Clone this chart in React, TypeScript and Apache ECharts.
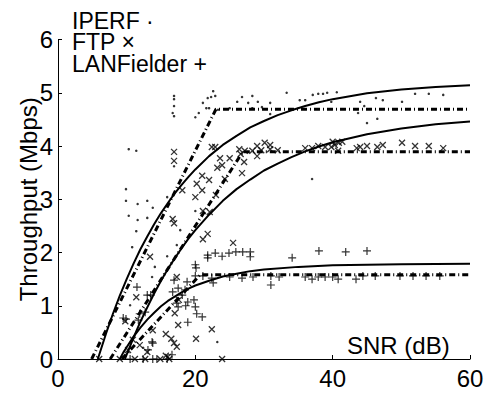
import React, { useEffect, useRef } from 'react';
import * as echarts from 'echarts';

const legendLabels = ['IPERF ·', 'FTP ×', 'LANFielder +'];
const xAxisTitle = 'SNR (dB)';
const yAxisTitle = 'Throughput (Mbps)';

const iperfPoints: [number, number][] = [
  [16.9, 4.94], [16.9, 4.88], [16.9, 4.75], [16.7, 4.62], [16.9, 4.56], [10.3, 3.94], [11.4, 3.91],
  [16.9, 3.62], [9.9, 3.19], [9.9, 2.97], [11.6, 2.91], [13.0, 2.97], [13.8, 2.84], [15.9, 3.04],
  [20.0, 4.54], [10.3, 2.69], [13.0, 2.65], [11.6, 2.61], [11.4, 2.4], [10.8, 2.1], [14.1, 1.73],
  [13.7, 1.54], [15.9, 1.93], [17.8, 2.42], [17.3, 2.14], [10.5, 1.01], [22.6, 5.03], [22.3, 4.92],
  [22.9, 4.94], [21.8, 4.9], [21.1, 4.81], [21.6, 4.71], [22.0, 4.71], [20.5, 4.62], [26.8, 4.92],
  [28.3, 4.94], [26.1, 4.83], [27.7, 4.81], [29.1, 4.83], [29.7, 4.73], [28.3, 4.71], [30.9, 4.81],
  [33.3, 5.0], [35.2, 4.86], [36.0, 4.86], [37.1, 4.96], [37.9, 4.98], [38.6, 4.98], [39.2, 5.0],
  [30.9, 4.6], [37.0, 3.38], [20.0, 2.78], [40.6, 5.01], [39.8, 4.83], [44.0, 4.83], [46.3, 4.9],
  [47.3, 4.86], [50.1, 4.83], [52.0, 4.98], [54.0, 4.98], [56.1, 4.96], [43.7, 4.62], [45.0, 4.43],
  [46.5, 4.51], [44.6, 4.75], [23.2, 0.32], [12.4, 0.21], [23.3, 4.68], [25.0, 4.71]
];

const ftpPoints: [number, number][] = [
  [16.9, 3.89], [16.9, 3.72], [18.1, 3.17], [16.7, 2.63], [16.9, 2.55], [22.4, 3.98], [22.9, 3.98],
  [23.6, 3.77], [25.0, 3.77], [23.2, 3.59], [23.9, 3.64], [21.0, 3.44], [22.0, 3.36], [20.2, 3.29],
  [21.0, 3.17], [20.0, 3.04], [21.1, 2.78], [26.4, 3.94], [27.2, 3.91], [26.6, 3.85], [28.3, 3.91],
  [29.0, 4.0], [30.1, 4.06], [30.9, 4.02], [29.6, 3.92], [29.0, 3.81], [30.9, 3.94], [32.0, 3.92],
  [27.1, 3.7], [26.8, 3.49], [24.3, 3.38], [23.0, 3.08], [22.1, 2.76], [36.0, 3.96], [37.0, 3.96],
  [37.9, 4.0], [38.9, 3.98], [39.8, 3.98], [40.0, 4.08], [40.3, 4.02], [40.9, 4.06], [41.4, 4.08],
  [40.8, 3.91], [43.5, 3.96], [44.0, 3.98], [45.0, 4.0], [46.5, 3.98], [47.3, 4.02], [50.1, 4.06],
  [52.0, 4.0], [54.0, 4.0], [56.1, 3.96], [21.1, 2.25], [21.8, 2.35], [25.5, 2.18], [22.4, 0.56],
  [20.1, 0.38], [23.9, 0], [13.4, 1.92], [11.4, 1.16], [17.3, 1.54], [17.6, 1.11], [17.0, 0.86],
  [17.5, 0.64], [15.7, 0.47], [16.5, 0.38], [16.9, 0.3], [9.8, 0.71], [13.8, 0.54], [13.0, 0.13],
  [14.9, 0], [16.0, 0.04], [9.0, 0], [6.0, 0], [11.2, 0], [12.7, 0], [16.2, 0], [17.3, 0.23],
  [15.7, 0.06], [11.9, 0.26], [10.9, 0.36], [10.2, 0.17]
];

const lanPoints: [number, number][] = [
  [21.8, 1.95], [21.8, 1.9], [22.9, 1.99], [23.9, 1.93], [24.9, 1.99], [25.9, 2.01], [26.9, 2.01],
  [28.0, 2.01], [28.0, 1.92], [34.1, 1.9], [38.0, 2.03], [41.9, 2.01], [45.0, 2.03], [20.0, 1.56],
  [21.1, 1.56], [22.4, 1.52], [22.6, 1.43], [25.0, 1.54], [26.8, 1.52], [28.4, 1.54], [31.0, 1.56],
  [31.0, 1.39], [32.2, 1.54], [36.0, 1.54], [37.0, 1.5], [37.9, 1.54], [38.9, 1.54], [40.0, 1.54],
  [40.8, 1.5], [43.4, 1.5], [44.4, 1.56], [46.2, 1.56], [49.8, 1.56], [51.7, 1.56], [53.6, 1.56],
  [55.6, 1.56], [20.0, 1.77], [20.1, 1.71], [20.0, 0.98], [20.2, 0.85], [21.0, 0.79], [13.0, 1.2],
  [13.5, 1.2], [11.9, 0.85], [11.7, 0.73], [9.9, 0.75], [9.5, 0.77], [12.7, 0.88], [11.5, 1.35],
  [16.7, 1.26], [18.1, 1.2], [18.5, 1.3], [18.8, 1.45], [18.9, 1.07], [17.3, 1.05], [18.9, 0.69],
  [17.5, 1.33], [16.9, 1.48], [19.8, 1.11], [17.5, 0.98], [18.6, 1.0], [13.8, 0.3], [13.1, 0.17],
  [14.4, 0], [10.5, 0], [12.4, 0], [13.8, 0], [15.9, 0], [16.6, 0.08], [13.7, 0.32]
];

const iperfFit: [number, number][] = [
  [5.8, 0], [7, 0.48], [8, 0.85], [9, 1.19], [10, 1.5], [11, 1.79], [12, 2.06], [13, 2.3], [14, 2.53],
  [15, 2.74], [16, 2.93], [17, 3.11], [18, 3.27], [19, 3.42], [20, 3.56], [22, 3.81], [24, 4.02],
  [26, 4.19], [28, 4.35], [30, 4.47], [32, 4.58], [34, 4.67], [36, 4.75], [38, 4.82], [40, 4.88],
  [45, 4.99], [50, 5.06], [55, 5.11], [60, 5.14]
];
const ftpFit: [number, number][] = [
  [9.75, 0], [10, 0.08], [11, 0.4], [12, 0.7], [13, 0.97], [14, 1.23], [15, 1.47], [16, 1.69],
  [17, 1.89], [18, 2.08], [19, 2.26], [20, 2.42], [22, 2.71], [24, 2.97], [26, 3.19], [28, 3.37],
  [30, 3.54], [32, 3.67], [34, 3.79], [36, 3.9], [38, 3.99], [40, 4.07], [45, 4.22], [50, 4.33],
  [55, 4.41], [60, 4.46]
];
const lanFit: [number, number][] = [
  [9.0, 0], [9.5, 0.12], [10, 0.22], [11, 0.42], [12, 0.59], [13, 0.74], [14, 0.87], [15, 0.99],
  [16, 1.09], [17, 1.17], [18, 1.25], [19, 1.32], [20, 1.38], [22, 1.47], [24, 1.55], [26, 1.6],
  [28, 1.65], [30, 1.68], [35, 1.73], [40, 1.76], [50, 1.78], [60, 1.79]
];

const iperfLimit: [number, number][] = [[4.9, 0], [23.0, 4.69], [60, 4.69]];
const ftpLimit: [number, number][] = [[7.6, 0], [26.9, 3.89], [60, 3.89]];
const lanLimit: [number, number][] = [[9.3, 0], [20.7, 1.58], [60, 1.58]];

const FONT = '"Liberation Sans", Arial, Helvetica, sans-serif';
const FS = 24;
const LEGEND_FS = 23;

export default function App() {
  const ref = useRef<HTMLDivElement>(null);
  useEffect(() => {
    if (!ref.current) return;
    const chart = echarts.init(ref.current, null, { renderer: 'svg' });
    const fitLine = (name: string, data: [number, number][]) => ({
      name, type: 'line', data, smooth: false, showSymbol: false,
      lineStyle: { color: '#000', width: 2, join: 'round' }, z: 3
    });
    const limitLine = (name: string, data: [number, number][]) => ({
      name, type: 'line', data, showSymbol: false,
      lineStyle: { color: '#000', width: 3, type: [6, 3, 1, 3] }, z: 2
    });
    chart.setOption({
      animation: false,
      backgroundColor: '#fff',
      grid: { left: 58, right: 17, top: 39.5, bottom: 36 },
      xAxis: {
        type: 'value', min: 0, max: 60, interval: 20,
        axisLine: { lineStyle: { color: '#000', width: 1 } },
        axisTick: { inside: true, length: 4, lineStyle: { color: '#000' } },
        axisLabel: { color: '#000', fontSize: FS, fontFamily: FONT, margin: 7 },
        splitLine: { show: false }
      },
      yAxis: {
        type: 'value', min: 0, max: 6, interval: 1,
        name: yAxisTitle, nameLocation: 'middle', nameGap: 18, nameMoveOverlap: false,
        nameTextStyle: { color: '#000', fontSize: FS, fontFamily: FONT },
        axisLine: { show: true, lineStyle: { color: '#000', width: 1 } },
        axisTick: { show: true, inside: true, length: 4, lineStyle: { color: '#000' } },
        axisLabel: { color: '#000', fontSize: FS, fontFamily: FONT, margin: 5 },
        splitLine: { show: false }
      },
      series: [
        limitLine('IPERF limit', iperfLimit),
        limitLine('FTP limit', ftpLimit),
        limitLine('LANFielder limit', lanLimit),
        fitLine('IPERF fit', iperfFit),
        fitLine('FTP fit', ftpFit),
        fitLine('LANFielder fit', lanFit),
        {
          name: 'IPERF', type: 'scatter', data: iperfPoints, symbol: 'circle', symbolSize: 2.5,
          itemStyle: { color: '#000' }, clip: false, z: 4
        },
        {
          name: 'FTP', type: 'scatter', data: ftpPoints, symbol: 'path://M0,0L10,10M10,0L0,10',
          symbolSize: 6, itemStyle: { color: 'none', borderColor: '#000', borderWidth: 1.3 }, clip: false, z: 4
        },
        {
          name: 'LANFielder', type: 'scatter', data: lanPoints, symbol: 'path://M5,0L5,10M0,5L10,5',
          symbolSize: 8, itemStyle: { color: 'none', borderColor: '#000', borderWidth: 1.2 }, clip: false, z: 4
        }
      ],
      graphic: [
        {
          type: 'text', left: 72, top: 9, z: 10,
          style: { text: legendLabels.join('\n'), fill: '#000', font: `${LEGEND_FS}px ${FONT}`, lineHeight: 21.5 }
        },
        {
          type: 'text', left: 347, top: 333, z: 10,
          style: { text: xAxisTitle, fill: '#000', font: `${FS}px ${FONT}` }
        }
      ]
    });
    return () => chart.dispose();
  }, []);
  return <div ref={ref} style={{ position: 'fixed', left: 0, top: 0, width: 487, height: 395 }} />;
}
